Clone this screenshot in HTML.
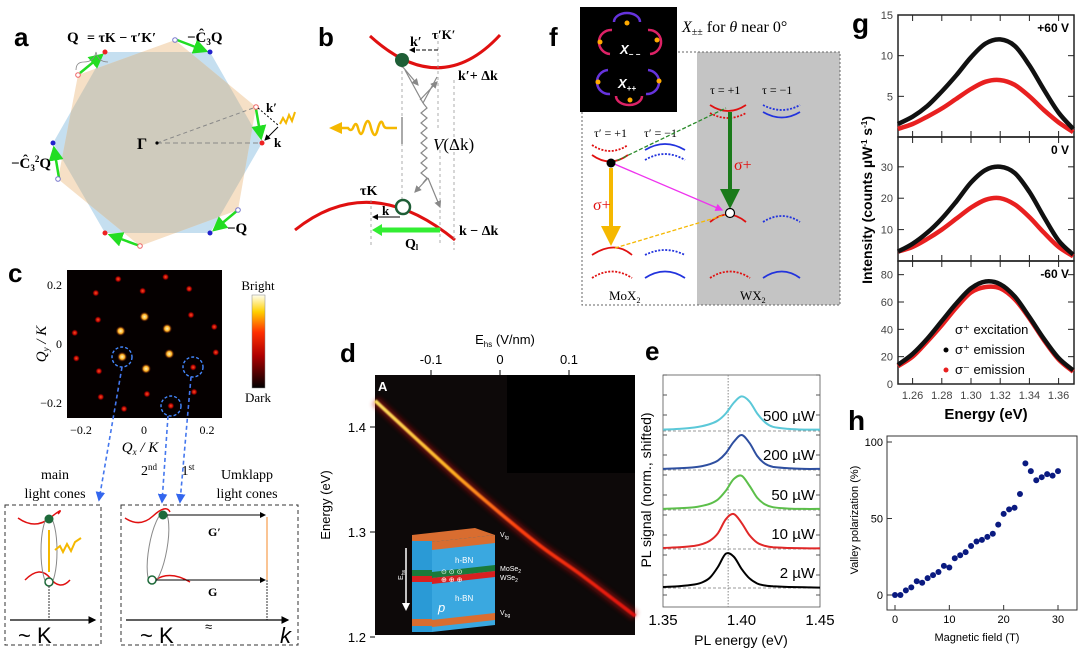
<!DOCTYPE html>
<html><head><meta charset="utf-8"><style>
html,body{margin:0;padding:0;background:#fff}
svg{display:block;font-family:"Liberation Sans",sans-serif}
.serif{font-family:"Liberation Serif",serif}
</style></head><body>
<svg id="fig" width="1080" height="650" viewBox="0 0 1080 650" xmlns="http://www.w3.org/2000/svg">
<defs>
<linearGradient id="cbar" x1="0" y1="1" x2="0" y2="0"><stop offset="0" stop-color="#000"/><stop offset="0.35" stop-color="#b00000"/><stop offset="0.6" stop-color="#ff3000"/><stop offset="0.82" stop-color="#ffd000"/><stop offset="1" stop-color="#fffff0"/></linearGradient>
<linearGradient id="dgrad" gradientUnits="userSpaceOnUse" x1="375" y1="0" x2="635" y2="0"><stop offset="0" stop-color="#ffe060"/><stop offset="0.3" stop-color="#ffb020"/><stop offset="0.55" stop-color="#ff4010"/><stop offset="1" stop-color="#e01010"/></linearGradient>
<filter id="blur2" x="-20%" y="-20%" width="140%" height="140%"><feGaussianBlur stdDeviation="2.5"/></filter>
<filter id="blur1" x="-20%" y="-20%" width="140%" height="140%"><feGaussianBlur stdDeviation="0.8"/></filter>
<radialGradient id="spot"><stop offset="0" stop-color="#fff6c0"/><stop offset="0.5" stop-color="#ffb020"/><stop offset="1" stop-color="#600" stop-opacity="0"/></radialGradient>
<radialGradient id="spotd"><stop offset="0" stop-color="#ff5020"/><stop offset="0.6" stop-color="#b00000"/><stop offset="1" stop-color="#300" stop-opacity="0"/></radialGradient>
<marker id="ag" markerWidth="6" markerHeight="6" refX="5" refY="3" orient="auto"><path d="M0,0L6,3L0,6z" fill="#22dd22"/></marker>
<marker id="ak" markerWidth="6" markerHeight="6" refX="5" refY="3" orient="auto"><path d="M0,0L6,3L0,6z" fill="#000"/></marker>
<marker id="ab" markerWidth="6" markerHeight="6" refX="5" refY="3" orient="auto"><path d="M0,0L6,3L0,6z" fill="#3366ee"/></marker>
<marker id="agr" markerWidth="6" markerHeight="6" refX="5" refY="3" orient="auto"><path d="M0,0L6,3L0,6z" fill="#888"/></marker>
<marker id="ay" markerWidth="5" markerHeight="5" refX="4" refY="2.5" orient="auto"><path d="M0,0L5,2.5L0,5z" fill="#f5b800"/></marker>
<marker id="adg" markerWidth="5" markerHeight="5" refX="4" refY="2.5" orient="auto"><path d="M0,0L5,2.5L0,5z" fill="#1a7a1a"/></marker>
<marker id="am" markerWidth="6" markerHeight="6" refX="5" refY="3" orient="auto"><path d="M0,0L6,3L0,6z" fill="#ee33ee"/></marker>
</defs>

<!-- ===== Panel a ===== -->
<g>
<text x="14" y="46" font-size="26" font-weight="bold">a</text>
<polygon points="262,143 210,52 105,52 53,143 105,233 210,233" fill="#c5dff0"/>
<polygon points="78,75 175,40 256,107 238,210 140,246 58,179" fill="#f6e0c6"/>
<clipPath id="cb"><polygon points="262,143 210,52 105,52 53,143 105,233 210,233"/></clipPath>
<polygon points="78,75 175,40 256,107 238,210 140,246 58,179" fill="#cfcbbd" clip-path="url(#cb)"/>
<line x1="157" y1="143" x2="262" y2="143" stroke="#888" stroke-dasharray="5,3"/>
<line x1="157" y1="143" x2="256" y2="107" stroke="#888" stroke-dasharray="4,3"/>
<circle cx="157" cy="143" r="1.6" fill="#000"/>
<text x="137" y="149" font-size="16" font-weight="bold" class="serif">Γ</text>
<g stroke="#22dd22" stroke-width="2.5" fill="none" marker-end="url(#ag)">
<line x1="80" y1="73" x2="102" y2="55"/><line x1="177" y1="40" x2="206" y2="51"/><line x1="256" y1="109" x2="261" y2="138"/>
<line x1="238" y1="210" x2="214" y2="230"/><line x1="140" y1="246" x2="110" y2="235"/><line x1="59" y1="178" x2="54" y2="148"/>
</g>
<g fill="#e22"><circle cx="105" cy="52" r="2.5"/><circle cx="262" cy="143" r="2.5"/><circle cx="105" cy="233" r="2.5"/></g>
<g fill="#22c"><circle cx="210" cy="52" r="2.5"/><circle cx="53" cy="143" r="2.5"/><circle cx="210" cy="233" r="2.5"/></g>
<g fill="#fff" stroke="#e66"><circle cx="78" cy="75" r="2.3"/><circle cx="256" cy="107" r="2.3"/><circle cx="140" cy="246" r="2.3"/></g>
<g fill="#fff" stroke="#77c"><circle cx="175" cy="40" r="2.3"/><circle cx="238" cy="210" r="2.3"/><circle cx="58" cy="179" r="2.3"/></g>
<line x1="258" y1="108" x2="278" y2="125" stroke="#000" stroke-dasharray="2,2"/>
<line x1="278" y1="127" x2="265" y2="140" stroke="#000" marker-end="url(#ak)"/>
<path d="M280,124 l3,-6 l3,5 l3,-8 l3,6 l3,-9" stroke="#f5b800" stroke-width="2" fill="none"/>
<g class="serif" font-weight="bold" font-size="15">
<text x="67" y="42">Q</text><text x="87" y="42" font-size="14">= τK − τ′K′</text>
<text x="187" y="42">−Ĉ<tspan font-size="9" dy="3">3</tspan><tspan dy="-3">Q</tspan></text>
<text x="11" y="168">−Ĉ<tspan font-size="9" dy="3">3</tspan><tspan font-size="9" dy="-9">2</tspan><tspan dy="6">Q</tspan></text>
<text x="227" y="233">−Q</text>
<text x="266" y="112" font-size="13">k′</text><text x="274" y="147" font-size="13">k</text>
</g>
<path d="M76,70 q0,-8 8,-8 q10,0 12,-10 q2,10 12,10" stroke="#888" fill="none" stroke-width="0.8"/>
</g>

<!-- ===== Panel b ===== -->
<g>
<text x="318" y="46" font-size="26" font-weight="bold">b</text>
<path d="M370,36 Q440,100 500,35" stroke="#e01010" stroke-width="3" fill="none"/>
<path d="M295,230 Q370,170 455,240" stroke="#e01010" stroke-width="3" fill="none"/>
<g stroke="#999" stroke-dasharray="3,3" stroke-width="0.8">
<line x1="402" y1="65" x2="402" y2="200"/><line x1="438" y1="35" x2="438" y2="130"/><line x1="454" y1="80" x2="454" y2="250"/><line x1="371" y1="200" x2="371" y2="245"/><line x1="440" y1="150" x2="440" y2="245"/>
</g>
<line x1="438" y1="50" x2="410" y2="50" stroke="#000" stroke-dasharray="4,2" marker-end="url(#ak)"/>
<g stroke="#888" stroke-width="1.2" fill="none" marker-end="url(#agr)">
<line x1="402" y1="66" x2="418" y2="85"/><line x1="420" y1="100" x2="437" y2="82"/><line x1="428" y1="178" x2="415" y2="192"/><line x1="428" y1="178" x2="440" y2="207"/>
</g>
<line x1="405" y1="70" x2="423" y2="103" stroke="#888" stroke-width="1.2"/>
<line x1="437" y1="77" x2="423" y2="103" stroke="#888" stroke-width="1.2"/>
<path d="M423,103 l4,5 l-6,5 l6,5 l-6,5 l6,5 l-6,5 l6,5 l-6,5 l6,5 l-6,5 l6,5 l-6,5 l6,5 l-6,5 l6,5 l-4,5" stroke="#888" fill="none" stroke-width="1.2"/>
<circle cx="402" cy="60" r="7" fill="#1e5e36"/>
<circle cx="403" cy="207" r="7" fill="#fff" stroke="#1e5e36" stroke-width="2.5"/>
<path d="M397,128 H387 Q384,128 383,124 Q381,118 378,128 Q375,142 371,128 Q368,114 364,128 Q361,140 358,128 Q356,120 353,128 Q351,132 348,128 H340" stroke="#f5b800" stroke-width="2.5" fill="none"/>
<path d="M329,128 l13,-6 v12 z" fill="#f5b800"/>
<line x1="402" y1="117" x2="402" y2="144" stroke="#aaa" stroke-width="2"/>
<line x1="400" y1="217" x2="373" y2="217" stroke="#000" marker-end="url(#ak)"/>
<line x1="440" y1="230" x2="380" y2="230" stroke="#33ee33" stroke-width="5"/>
<path d="M372,230 l10,-6 v12z" fill="#33ee33"/>
<g class="serif" font-weight="bold" font-size="14">
<text x="410" y="46">k′</text><text x="432" y="39" font-size="13">τ′K′</text><text x="458" y="80">k′+ Δk</text>
<text x="433" y="150" font-size="17" font-weight="normal" font-style="italic">V<tspan font-style="normal">(Δk)</tspan></text>
<text x="360" y="195">τK</text><text x="382" y="215" font-size="13">k</text><text x="459" y="235">k − Δk</text><text x="405" y="248">Q<tspan font-size="8" dy="2">l</tspan></text>
</g>
</g>

<!-- ===== Panel c ===== -->
<g>
<text x="8" y="282" font-size="26" font-weight="bold">c</text>
<rect x="67" y="270" width="155" height="148" fill="#050000"/>
<g id="cspots"></g>
<g fill="none" stroke="#4488ff" stroke-width="1.4" stroke-dasharray="3,2">
<circle cx="122" cy="357" r="10"/><circle cx="193" cy="367" r="10"/><circle cx="171" cy="406" r="10"/>
</g>
<g stroke="#4477ee" stroke-width="1.6" stroke-dasharray="4,3" fill="none">
<line x1="122" y1="367" x2="99" y2="500" marker-end="url(#ab)"/><line x1="168" y1="416" x2="162" y2="502" marker-end="url(#ab)"/><line x1="191" y1="377" x2="180" y2="502" marker-end="url(#ab)"/>
</g>
<g font-size="12" class="serif" fill="#000">
<text x="62" y="289" text-anchor="end">0.2</text><text x="62" y="348" text-anchor="end">0</text><text x="62" y="407" text-anchor="end">−0.2</text>
<text x="81" y="434" text-anchor="middle">−0.2</text><text x="144" y="434" text-anchor="middle">0</text><text x="207" y="434" text-anchor="middle">0.2</text>
</g>
<text x="140" y="452" font-size="15" class="serif" font-style="italic" text-anchor="middle">Q<tspan font-size="9" dy="3">x</tspan><tspan dy="-3"> / K</tspan></text>
<text transform="translate(46,344) rotate(-90)" font-size="15" class="serif" font-style="italic" text-anchor="middle">Q<tspan font-size="9" dy="3">y</tspan><tspan dy="-3"> / K</tspan></text>
<rect x="252" y="295" width="13" height="93" fill="url(#cbar)" stroke="#888" stroke-width="0.5"/>
<text x="258" y="290" font-size="13" class="serif" text-anchor="middle">Bright</text>
<text x="258" y="402" font-size="13" class="serif" text-anchor="middle">Dark</text>
<g class="serif" font-size="14" text-anchor="middle">
<text x="55" y="479">main</text><text x="55" y="498">light cones</text>
<text x="149" y="475">2<tspan font-size="9" dy="-5">nd</tspan></text><text x="188" y="475">1<tspan font-size="9" dy="-5">st</tspan></text>
<text x="247" y="479">Umklapp</text><text x="247" y="498">light cones</text>
</g>
<rect x="5" y="505" width="96" height="140" fill="none" stroke="#333" stroke-dasharray="4,3"/>
<rect x="121" y="505" width="177" height="140" fill="none" stroke="#333" stroke-dasharray="4,3"/>
<path d="M18,518 Q35,530 50,518 T58,514" stroke="#e01010" stroke-width="1.5" fill="none"/>
<path d="M25,580 Q40,565 50,578 T70,580" stroke="#e01010" stroke-width="1.5" fill="none"/>
<ellipse cx="49" cy="551" rx="8" ry="34" fill="none" stroke="#888"/>
<line x1="49" y1="530" x2="49" y2="572" stroke="#f5b800" stroke-width="2"/>
<path d="M55,550 l5,-4 l3,6 l4,-8 l4,7 l4,-9 l6,-4" stroke="#f5b800" stroke-width="2" fill="none"/>
<circle cx="49" cy="519" r="4.5" fill="#1e6a3a"/><circle cx="49" cy="582" r="4" fill="#fff" stroke="#1e6a3a" stroke-width="1.5"/>
<line x1="49" y1="586" x2="49" y2="620" stroke="#333" stroke-dasharray="2,1"/>
<line x1="10" y1="620" x2="95" y2="620" stroke="#000" stroke-width="1.3" marker-end="url(#ak)"/>
<path d="M125,518 Q140,528 153,516 T170,512" stroke="#e01010" stroke-width="1.5" fill="none"/>
<path d="M155,580 Q170,570 190,582" stroke="#e01010" stroke-width="1.5" fill="none"/>
<ellipse cx="158" cy="548" rx="9" ry="36" transform="rotate(10 158 548)" fill="none" stroke="#888"/>
<circle cx="163" cy="515" r="4.5" fill="#1e6a3a"/><circle cx="152" cy="580" r="4" fill="#fff" stroke="#1e6a3a" stroke-width="1.5"/>
<line x1="167" y1="515" x2="265" y2="515" stroke="#000" marker-end="url(#ak)"/>
<line x1="156" y1="580" x2="265" y2="580" stroke="#000" marker-end="url(#ak)"/>
<line x1="267" y1="517" x2="267" y2="580" stroke="#f8b070" stroke-width="1.5"/>
<line x1="267" y1="580" x2="267" y2="620" stroke="#333" stroke-dasharray="2,1"/>
<line x1="126" y1="620" x2="288" y2="620" stroke="#000" stroke-width="1.3" marker-end="url(#ak)"/>
<g class="serif" font-weight="bold" font-size="12"><text x="208" y="536">G′</text><text x="208" y="596">G</text></g>
<g font-size="22"><text x="18" y="643">~ K</text><text x="140" y="643">~ K</text><text x="205" y="631" font-size="13">≈</text><text x="280" y="643" font-style="italic">k</text></g>
</g>

<!-- ===== Panel d ===== -->
<g>
<text x="340" y="362" font-size="26" font-weight="bold">d</text>
<rect x="375" y="375" width="260" height="260" fill="#0d0909"/>
<rect x="507" y="375" width="128" height="98" fill="#000"/>
<g id="dlinegrp"></g>
<text x="378" y="391" font-size="13" font-weight="bold" fill="#fff">A</text>
<g id="dticks" font-size="13"></g>
<text x="505" y="344" font-size="13" text-anchor="middle">E<tspan font-size="8" dy="3">hs</tspan><tspan dy="-3">  (V/nm)</tspan></text>
<text transform="translate(330,505) rotate(-90)" font-size="13" text-anchor="middle">Energy (eV)</text>
<g>
<polygon points="412,535 475,528 495,535 432,542" fill="#d96d30"/>
<rect x="412" y="535" width="20" height="97" fill="#2a9ad6"/>
<polygon points="432,542 495,535 495,625 432,632" fill="#3aa8e0"/>
<polygon points="432,542 495,535 495,543 432,550" fill="#d96d30"/>
<polygon points="432,572 495,565 495,571 432,578" fill="#1a7a3a"/>
<polygon points="432,578 495,571 495,577 432,584" fill="#d82020"/>
<polygon points="432,620 495,613 495,620 432,627" fill="#d96d30"/>
<rect x="412" y="570" width="20" height="6" fill="#1a7a3a"/><rect x="412" y="576" width="20" height="6" fill="#d82020"/><rect x="412" y="619" width="20" height="7" fill="#d96d30"/><rect x="412" y="535" width="20" height="6" fill="#d96d30"/>
<text x="455" y="563" font-size="8" fill="#fff">h-BN</text><text x="455" y="601" font-size="8" fill="#fff">h-BN</text>
<text x="438" y="612" font-size="13" font-style="italic" fill="#fff">p</text>
<text x="441" y="574" font-size="7" fill="#fff">⊙ ⊙ ⊙</text><text x="441" y="582" font-size="7" fill="#fff">⊕ ⊕ ⊕</text>
<line x1="406" y1="548" x2="406" y2="605" stroke="#fff" stroke-width="1.5"/>
<path d="M402,603 l4,8 l4,-8z" fill="#fff"/>
<text transform="translate(403,575) rotate(-90)" font-size="7" fill="#fff" text-anchor="middle">E<tspan font-size="5" dy="2">hs</tspan></text>
<g font-size="7" fill="#fff"><text x="500" y="537">V<tspan font-size="5" dy="2">tg</tspan></text><text x="500" y="571">MoSe<tspan font-size="5" dy="2">2</tspan></text><text x="500" y="580">WSe<tspan font-size="5" dy="2">2</tspan></text><text x="500" y="615">V<tspan font-size="5" dy="2">bg</tspan></text></g>
</g>
</g>

<!-- ===== Panel e ===== -->
<g>
<text x="645" y="360" font-size="26" font-weight="bold">e</text>
<rect x="663" y="375" width="157" height="232" fill="#fff" stroke="#555" stroke-width="0.8"/>
<g id="eplot"></g>
<text transform="translate(651,490) rotate(-90)" font-size="14" text-anchor="middle">PL signal (norm., shifted)</text>
<text x="741" y="645" font-size="14" text-anchor="middle">PL energy (eV)</text>
</g>

<!-- ===== Panel f ===== -->
<g>
<rect x="697" y="52" width="143" height="253" fill="#c4c4c4"/>
<rect x="582" y="52" width="258" height="253" fill="none" stroke="#666" stroke-dasharray="2,2"/>
<rect x="580" y="7" width="97" height="105" fill="#000"/>
<g fill="none" stroke-width="2.5">
<path d="M614,22 a13,9 0 1,1 26,0" stroke="#6633dd"/>
<path d="M610,54 a11,11 0 1,1 2,-24" stroke="#dd2266"/>
<path d="M648,30 a11,11 0 1,1 2,24" stroke="#dd2266"/>
<path d="M610,94 a11,11 0 1,1 -2,-24" stroke="#6633dd"/>
<path d="M648,70 a11,11 0 1,1 -2,24" stroke="#6633dd"/>
<path d="M616,96 a13,9 0 1,0 26,0" stroke="#dd2266"/>
</g>
<g fill="#ffaa00"><circle cx="627" cy="23" r="2.5"/><circle cx="600" cy="42" r="2.5"/><circle cx="657" cy="40" r="2.5"/><circle cx="598" cy="82" r="2.5"/><circle cx="659" cy="81" r="2.5"/><circle cx="630" cy="100" r="2.5"/></g>
<text x="620" y="54" font-size="13" font-weight="bold" font-style="italic" fill="#fff">X<tspan font-size="8" dy="3">− −</tspan></text>
<text x="618" y="88" font-size="13" font-weight="bold" font-style="italic" fill="#fff">X<tspan font-size="8" dy="3">++</tspan></text>
<text x="682" y="32" font-size="16" class="serif"><tspan font-style="italic">X</tspan><tspan font-size="10" dy="3">±±</tspan><tspan dy="-3"> for </tspan><tspan font-style="italic">θ</tspan> near 0°</text>
<g class="serif" font-size="12"><text x="594" y="137">τ′ = +1</text><text x="644" y="137">τ′ = −1</text><text x="710" y="94">τ = +1</text><text x="762" y="94">τ = −1</text></g>
<g fill="none" stroke-width="1.8">
<path d="M592,155 Q610,168 628,155" stroke="#e01010"/><path d="M592,145 Q610,157 628,145" stroke="#e01010" stroke-dasharray="2,1.5"/>
<path d="M645,150 Q665,138 685,150" stroke="#2233dd"/><path d="M645,160 Q665,148 685,160" stroke="#2233dd" stroke-dasharray="2,1.5"/>
<path d="M710,105 Q728,117 746,105" stroke="#e01010"/><path d="M710,113 Q728,123 746,113" stroke="#e01010" stroke-dasharray="2,1.5"/>
<path d="M763,105 Q782,115 800,105" stroke="#2233dd" stroke-dasharray="2,1.5"/><path d="M763,112 Q782,123 800,112" stroke="#2233dd"/>
<path d="M710,222 Q728,207 746,222" stroke="#e01010"/><path d="M763,222 Q782,210 800,222" stroke="#2233dd" stroke-dasharray="2,1.5"/>
<path d="M592,255 Q615,240 632,255" stroke="#e01010"/><path d="M645,255 Q665,245 685,255" stroke="#2233dd" stroke-dasharray="2,1.5"/>
<path d="M592,278 Q612,265 632,278" stroke="#e01010" stroke-dasharray="2,1.5"/><path d="M645,278 Q665,265 685,278" stroke="#2233dd"/>
<path d="M710,278 Q730,265 750,278" stroke="#e01010" stroke-dasharray="2,1.5"/><path d="M763,278 Q782,265 800,278" stroke="#2233dd"/>
</g>
<line x1="611" y1="168" x2="611" y2="242" stroke="#f5b800" stroke-width="4" marker-end="url(#ay)"/>
<line x1="730" y1="112" x2="730" y2="205" stroke="#1a7a1a" stroke-width="4" marker-end="url(#adg)"/>
<line x1="612" y1="163" x2="726" y2="108" stroke="#2a8a2a" stroke-width="1.3" stroke-dasharray="4,2"/>
<line x1="612" y1="163" x2="722" y2="210" stroke="#ee33ee" stroke-width="1.3" marker-end="url(#am)"/>
<line x1="615" y1="248" x2="725" y2="215" stroke="#f5b800" stroke-width="1.3" stroke-dasharray="4,2"/>
<circle cx="611" cy="163" r="4.5" fill="#000"/><circle cx="730" cy="213" r="4.5" fill="#fff" stroke="#000" stroke-width="1.2"/>
<g fill="#e01010" font-size="16" class="serif"><text x="593" y="210">σ+</text><text x="734" y="170">σ+</text></g>
<g class="serif" font-size="13"><text x="609" y="300">MoX<tspan font-size="8" dy="3">2</tspan></text><text x="740" y="300">WX<tspan font-size="8" dy="3">2</tspan></text></g>
</g>
<text x="549" y="46" font-size="26" font-weight="bold">f</text>

<!-- ===== Panel g ===== -->
<g>
<text x="852" y="33" font-size="28" font-weight="bold">g</text>
<g id="gplot"></g>
<text transform="translate(872,200) rotate(-90)" font-size="14" font-weight="bold" text-anchor="middle">Intensity  (counts  µW<tspan font-size="8" dy="-5">-1</tspan><tspan dy="5"> s</tspan><tspan font-size="8" dy="-5">-1</tspan><tspan dy="5">)</tspan></text>
<text x="986" y="419" font-size="15" font-weight="bold" text-anchor="middle">Energy (eV)</text>
</g>

<!-- ===== Panel h ===== -->
<g>
<text x="848" y="430" font-size="28" font-weight="bold">h</text>
<g id="hplot"></g>
<text transform="translate(858,520) rotate(-90)" font-size="11" text-anchor="middle">Valley polarization (%)</text>
<text x="977" y="641" font-size="11" text-anchor="middle">Magnetic field (T)</text>
</g>
</svg>

<script>
const NS = "http://www.w3.org/2000/svg";
function mk(tag, attrs, parent){const e=document.createElementNS(NS,tag);for(const k in attrs)e.setAttribute(k,attrs[k]);parent.appendChild(e);return e;}
function smooth(pts){let d='M'+pts[0][0].toFixed(1)+','+pts[0][1].toFixed(1);
  for(let i=0;i<pts.length-1;i++){const p0=pts[Math.max(0,i-1)],p1=pts[i],p2=pts[i+1],p3=pts[Math.min(pts.length-1,i+2)];
    const c1x=p1[0]+(p2[0]-p0[0])/6,c1y=p1[1]+(p2[1]-p0[1])/6,c2x=p2[0]-(p3[0]-p1[0])/6,c2y=p2[1]-(p3[1]-p1[1])/6;
    d+=' C'+c1x.toFixed(1)+','+c1y.toFixed(1)+' '+c2x.toFixed(1)+','+c2y.toFixed(1)+' '+p2[0].toFixed(1)+','+p2[1].toFixed(1);}
  return d;}

/* ---- panel c data ---- */
const cSpotQx = [-0.077,0,0.073,0.08,0.005,-0.072,-0.15,-0.085,-0.006,0.068,0.144,0.15,0.225,0.23,0.157,0.16,0.085,0.008,-0.066,-0.141,-0.147,-0.22,-0.225,-0.157];
const cSpotQy = [0.042,0.09,0.05,-0.035,-0.085,-0.045,0.08,0.217,0.177,0.224,0.184,0.096,0.056,-0.03,-0.08,-0.163,-0.21,-0.17,-0.22,-0.18,-0.093,-0.05,0.036,0.17];
const cSpotBright = [1,1,1,1,1,1,0,0,0,0,0,0,0,0,0,0,0,0,0,0,0,0,0,0];
/* ---- panel d data ---- */
const dField = [-0.181,-0.12,-0.06,0,0.06,0.12,0.196];
const dEnergy = [1.425,1.388,1.352,1.318,1.286,1.258,1.22];
const dTicks = [-0.1,0,0.1];
const dEticks = [1.4,1.3,1.2];
/* ---- panel e data ---- */
const eEnergy = [1.35,1.36,1.37,1.375,1.38,1.385,1.39,1.395,1.40,1.405,1.41,1.415,1.42,1.43,1.44,1.45];
const e2uW   = [.03,.05,.10,.16,.30,.60,.98,.90,.55,.28,.13,.07,.05,.03,.02,.01];
const e10uW  = [.03,.05,.09,.14,.24,.45,.85,1.0,.75,.40,.18,.09,.05,.03,.02,.02];
const e50uW  = [.03,.05,.08,.12,.18,.30,.55,.88,.98,.70,.35,.16,.08,.04,.03,.03];
const e200uW = [.03,.05,.08,.11,.17,.27,.48,.80,1.0,.78,.40,.18,.09,.05,.03,.03];
const e500uW = [.04,.06,.10,.14,.20,.30,.50,.80,.99,.85,.50,.25,.12,.06,.04,.04];
const eLabels = ["2 µW","10 µW","50 µW","200 µW","500 µW"];
const eColors = ["#000","#e02828","#5cbf4a","#2e4fa0","#5bc8d8"];
const eXticks = [1.35,1.40,1.45];
/* ---- panel g data ---- */
const gEnergy = [1.25,1.26,1.27,1.28,1.29,1.30,1.31,1.32,1.33,1.34,1.35,1.36,1.37];
const gP60Black = [1.6,2.5,3.8,5.6,7.6,9.8,11.5,12,11.2,8.8,5.8,3.0,1.0];
const gP60Red   = [1.0,1.6,2.5,3.5,4.7,5.9,6.8,7,6.4,5,3.3,1.8,0.6];
const g0Black   = [3,5.5,9,13.5,19,25,29,30,28,22,14,6.5,2];
const g0Red     = [3,4.5,7,10,13.5,17,19.5,20,18,14,9,4.5,1.5];
const gM60Black = [14,22,33,46,59,70,75,73,64,49,33,19,10];
const gM60Red   = [13,20,31,43,56,67,71,70,62,48,32,18,9];
const gXticks = [1.26,1.28,1.30,1.32,1.34,1.36];
const gP60Ticks = [5,10,15];
const g0Ticks = [10,20,30];
const gM60Ticks = [0,20,40,60,80];
/* ---- panel h data ---- */
const hField = [0,1,2,3,4,5,6,7,8,9,10,11,12,13,14,15,16,17,18,19,20,21,22,23,24,25,26,27,28,29,30];
const hPol = [0,0,3,5,9,8,11,13,15,19,18,24,26,28,32,35,36,38,40,46,53,56,57,66,86,81,75,77,79,78,81];
const hXticks = [0,10,20,30];
const hYticks = [0,50,100];

/* panel c */
(function(){
  const g=document.getElementById('cspots');
  const sx=q=>144.5+q*310, sy=q=>343.5-q*297;
  cSpotQx.forEach((q,i)=>{
    const c=mk('circle',{cx:sx(q),cy:sy(cSpotQy[i]),r:cSpotBright[i]?5:3.5,fill:cSpotBright[i]?'url(#spot)':'url(#spotd)'},g);
    
    
  });
})();

/* panel d */
(function(){
  const sx=v=>500+v*690, sy=v=>427-(v-1.4)*1050;
  const g=document.getElementById('dlinegrp');
  const pts=dField.map((f,i)=>[sx(f),sy(dEnergy[i])]);
  const d=smooth(pts);
  const glow=mk('path',{d:d,fill:'none',stroke:'#c01010','stroke-width':10,opacity:0.45,filter:'url(#blur2)'},g);
  
  
  const l=mk('path',{d:d,fill:'none',stroke:'url(#dgrad)','stroke-width':3.5,filter:'url(#blur1)'},g);
  
  
  const t=document.getElementById('dticks');
  dTicks.forEach(v=>{
    const x=sx(v);
    mk('line',{x1:x,y1:370,x2:x,y2:375,stroke:'#000'},t);
    const tx=mk('text',{x:x,y:364,'text-anchor':'middle'},t);tx.textContent=(v===0?'0':v.toString());
    
    
  });
  dEticks.forEach(v=>{
    const y=sy(v);
    mk('line',{x1:370,y1:y,x2:375,y2:y,stroke:'#000'},t);
    const tx=mk('text',{x:366,y:y+5,'text-anchor':'end'},t);tx.textContent=v.toFixed(1);
    
    
  });
})();

/* panel e */
(function(){
  const g=document.getElementById('eplot');
  const sx=v=>663+(v-1.35)*1570;
  const base=[588,549,510,470,431];
  const series=[e2uW,e10uW,e50uW,e200uW,e500uW];
  mk('line',{x1:sx(1.3915),y1:375,x2:sx(1.3915),y2:607,stroke:'#888','stroke-dasharray':'1.5,1.5'},g);
  series.forEach((s,i)=>{
    mk('line',{x1:663,y1:base[i],x2:820,y2:base[i],stroke:'#777','stroke-dasharray':'3,2','stroke-width':0.8},g);
    const pts=s.map((v,j)=>[sx(eEnergy[j]),base[i]-v*35]);
    const p=mk('path',{d:smooth(pts),fill:'none',stroke:eColors[i],'stroke-width':2},g);
    
    
    const t=mk('text',{x:815,y:base[i]-10,'font-size':15,'text-anchor':'end'},g);t.textContent=eLabels[i];
    
    
  });
  for(let k=0;k<12;k++){const y=375+k*20;mk('line',{x1:663,y1:y,x2:667,y2:y,stroke:'#555'},g);mk('line',{x1:816,y1:y,x2:820,y2:y,stroke:'#555'},g);}
  eXticks.forEach(v=>{const t=mk('text',{x:sx(v),y:625,'font-size':15,'text-anchor':'middle'},g);t.textContent=v.toFixed(2);
    
    });
})();

/* panel g */
(function(){
  const g=document.getElementById('gplot');
  const sx=v=>898+(v-1.25)*1460;
  const panels=[
    {top:15,bot:137,max:15,b:gP60Black,r:gP60Red,ticks:gP60Ticks,lab:'+60 V'},
    {top:137,bot:261,max:39.5,b:g0Black,r:g0Red,ticks:g0Ticks,lab:'0 V'},
    {top:261,bot:384,max:90,b:gM60Black,r:gM60Red,ticks:gM60Ticks,lab:'-60 V'}];
  panels.forEach((P,pi)=>{
    const sy=v=>P.bot-(v/P.max)*(P.bot-P.top);
    const f=mk('rect',{x:898,y:P.top,width:176,height:P.bot-P.top,fill:'none',stroke:'#222','stroke-width':1.5},g);
    
    
    [[P.r,'#e82020'],[P.b,'#111']].forEach(([s,c],k)=>{
      const pts=s.map((v,j)=>[sx(gEnergy[j]),sy(v)]);
      const l=mk('path',{d:smooth(pts),fill:'none',stroke:c,'stroke-width':4.5},g);
      
      
    });
    P.ticks.forEach(v=>{const y=sy(v);mk('line',{x1:898,y1:y,x2:904,y2:y,stroke:'#222'},g);mk('line',{x1:1068,y1:y,x2:1074,y2:y,stroke:'#222'},g);
      const t=mk('text',{x:893,y:y+4,'font-size':11,fill:'#444','text-anchor':'end'},g);t.textContent=v;
      
      });
    gXticks.forEach(v=>{const x=sx(v);mk('line',{x1:x,y1:P.bot,x2:x,y2:P.bot-6,stroke:'#222'},g);mk('line',{x1:x,y1:P.top,x2:x,y2:P.top+6,stroke:'#222'},g);});
    const t=mk('text',{x:1069,y:P.top+17,'font-size':12,'font-weight':'bold','text-anchor':'end'},g);t.textContent=P.lab;
    
    
  });
  gXticks.forEach(v=>{const t=mk('text',{x:sx(v),y:399,'font-size':11,fill:'#444','text-anchor':'middle'},g);t.textContent=v.toFixed(2);
    
    });
  const L=[['σ⁺ excitation',null],['σ⁺ emission','#000'],['σ⁻ emission','#e82020']];
  L.forEach((e,i)=>{const y=334+i*20;if(e[1])mk('circle',{cx:946,cy:y-4,r:2.5,fill:e[1]},g);
    const t=mk('text',{x:955,y:y,'font-size':13},g);t.textContent=e[0];
    
    });
})();

/* panel h */
(function(){
  const g=document.getElementById('hplot');
  const sx=v=>895+v*(163/30), sy=v=>595-v*1.53;
  const f=mk('rect',{x:887,y:436,width:190,height:174,fill:'none',stroke:'#333','stroke-width':1},g);
  
  
  hXticks.forEach(v=>{const x=sx(v);mk('line',{x1:x,y1:610,x2:x,y2:605,stroke:'#333'},g);
    const t=mk('text',{x:x,y:623,'font-size':11,'text-anchor':'middle'},g);t.textContent=v;
    
    });
  hYticks.forEach(v=>{const y=sy(v);mk('line',{x1:887,y1:y,x2:892,y2:y,stroke:'#333'},g);
    const t=mk('text',{x:883,y:y+4,'font-size':11,'text-anchor':'end'},g);t.textContent=v;
    
    });
  hField.forEach((b,i)=>{const c=mk('circle',{cx:sx(b),cy:sy(hPol[i]),r:3,fill:'#0a1a80'},g);
    
    });
})();
</script>
</body></html>
